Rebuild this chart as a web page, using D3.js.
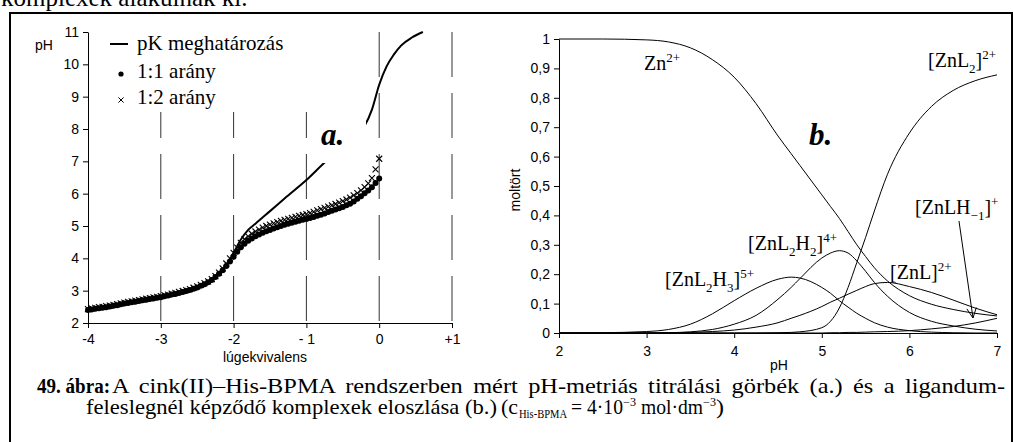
<!DOCTYPE html>
<html><head><meta charset="utf-8">
<script src="https://cdn.jsdelivr.net/npm/d3@7"></script>
<style>body{margin:0;background:#fff;} svg{display:block;}</style>
</head><body>
<svg id="c" width="1013" height="442"></svg>
<script>
// ---------- Chart a. (titration curves) ----------
const lugX = [-4.00,-3.95,-3.90,-3.85,-3.80,-3.75,-3.70,-3.65,-3.60,-3.55,
  -3.50,-3.45,-3.40,-3.35,-3.30,-3.25,-3.20,-3.15,-3.10,-3.05,
  -3.00,-2.95,-2.90,-2.85,-2.80,-2.75,-2.70,-2.65,-2.60,-2.55,
  -2.50,-2.45,-2.40,-2.35,-2.30,-2.25,-2.20,-2.15,-2.10,-2.05,
  -2.00,-1.95,-1.90,-1.85,-1.80,-1.75,-1.70,-1.65,-1.60,-1.55,
  -1.50,-1.45,-1.40,-1.35,-1.30,-1.25,-1.20,-1.15,-1.10,-1.05,
  -1.00,-0.95,-0.90,-0.85,-0.80,-0.75,-0.70,-0.65,-0.60,-0.55,
  -0.50,-0.45,-0.40,-0.35,-0.30,-0.25,-0.20,-0.15,-0.10,-0.05,0.00];
const ph11 = [2.40,2.42,2.44,2.46,2.47,2.49,2.51,2.53,2.55,2.58,
  2.60,2.62,2.64,2.66,2.68,2.70,2.72,2.74,2.76,2.78,
  2.80,2.83,2.85,2.88,2.90,2.93,2.96,2.99,3.02,3.06,
  3.10,3.15,3.20,3.26,3.33,3.42,3.52,3.63,3.76,3.90,
  4.05,4.20,4.34,4.45,4.54,4.61,4.68,4.74,4.79,4.84,
  4.88,4.92,4.96,5.00,5.04,5.07,5.10,5.13,5.16,5.19,
  5.22,5.25,5.28,5.32,5.35,5.39,5.43,5.47,5.51,5.55,
  5.59,5.64,5.69,5.76,5.84,5.92,6.01,6.10,6.20,6.33,6.47];
const ph12 = [2.43,2.45,2.47,2.49,2.50,2.52,2.54,2.56,2.58,2.61,
  2.63,2.65,2.67,2.69,2.71,2.73,2.75,2.77,2.79,2.81,
  2.83,2.86,2.88,2.91,2.93,2.96,2.99,3.02,3.05,3.09,
  3.13,3.18,3.23,3.29,3.36,3.45,3.56,3.69,3.84,4.00,
  4.17,4.33,4.48,4.59,4.68,4.76,4.83,4.89,4.95,5.00,
  5.04,5.08,5.12,5.16,5.19,5.22,5.25,5.28,5.31,5.34,
  5.37,5.40,5.44,5.48,5.52,5.56,5.60,5.64,5.68,5.72,
  5.77,5.82,5.88,5.95,6.02,6.10,6.20,6.32,6.48,6.75,7.08];
const pkX  = [-4,-3.5,-3,-2.5,-2.3,-2.2,-2.1,-2.0,-1.9,-1.8,-1.7,-1.5,-1.3,-1.0,-0.73,-0.5,-0.3,-0.2,-0.1,0,0.1,0.2,0.3,0.45,0.6];
const pkPH = [2.40,2.60,2.80,3.10,3.32,3.50,3.78,4.17,4.58,4.88,5.07,5.46,5.85,6.42,7.0,7.42,7.82,8.10,8.60,9.37,9.93,10.30,10.58,10.83,11.0];
const aXTicks = [-4,-3,-2,-1,0,1];
const aXTickLabels = ["-4","-3","-2","- 1","0","+1"];
const aYTicks = [2,3,4,5,6,7,8,9,10,11];
const aGridX = [-3,-2,-1,0,1];
const legendLabels = ["pK meghatározás","1:1 arány","1:2 arány"];

// ---------- Chart b. (species distribution) ----------
const bPH = [2.0,2.5,3.0,3.25,3.5,3.75,4.0,4.25,4.5,4.65,4.75,5.0,5.1,5.2,5.3,5.4,5.5,5.6,5.75,6.0,6.25,6.5,6.75,7.0];
const fZn     = [1.0,1.0,0.997,0.99,0.97,0.93,0.87,0.78,0.67,0.61,0.57,0.47,0.43,0.39,0.345,0.30,0.26,0.222,0.177,0.127,0.098,0.08,0.067,0.058];
const fZnL2H3 = [0,0.001,0.005,0.012,0.03,0.065,0.11,0.152,0.183,0.19,0.187,0.155,0.135,0.11,0.088,0.067,0.05,0.035,0.02,0.008,0.003,0.001,0,0];
const fZnL2H2 = [0,0,0,0.001,0.004,0.012,0.03,0.06,0.115,0.155,0.185,0.255,0.272,0.28,0.272,0.245,0.21,0.172,0.125,0.07,0.04,0.024,0.013,0.007];
const fZnL    = [0,0,0,0.001,0.002,0.005,0.01,0.02,0.035,0.05,0.06,0.09,0.105,0.118,0.132,0.145,0.158,0.168,0.172,0.158,0.138,0.112,0.085,0.062];
const fZnL2   = [0,0,0,0,0,0,0,0,0.001,0.002,0.004,0.018,0.04,0.085,0.155,0.24,0.325,0.415,0.54,0.68,0.77,0.825,0.858,0.878];
const fZnLHm1 = [0,0,0,0,0,0,0,0,0,0,0,0,0.001,0.001,0.002,0.002,0.003,0.004,0.005,0.008,0.014,0.022,0.034,0.05];
const bXTicks = [2,3,4,5,6,7];
const bYTicks = [0,0.1,0.2,0.3,0.4,0.5,0.6,0.7,0.8,0.9,1];
const arrowFrom = [6.566, 0.381];
const arrowTo = [6.726, 0.051];

const svg = d3.select("#c");
const SERIF = "Liberation Serif, Times New Roman, serif";
const SANS = "Liberation Sans, Arial, sans-serif";

// partial text at top (cut off)
svg.append("text").attr("x",1).attr("y",6).attr("font-family",SERIF).attr("font-size",25)
  .text("komplexek alakulnak ki.");

// frame
svg.append("line").attr("x1",9).attr("x2",1013).attr("y1",13).attr("y2",13).attr("stroke","#000").attr("stroke-width",2);
svg.append("line").attr("x1",10).attr("x2",10).attr("y1",12).attr("y2",442).attr("stroke","#000").attr("stroke-width",2);
svg.append("line").attr("x1",1012).attr("x2",1012).attr("y1",12).attr("y2",442).attr("stroke","#000").attr("stroke-width",2);

// ===== Chart a =====
const xa = d3.scaleLinear().domain([-4,1]).range([88,452]);
const ya = d3.scaleLinear().domain([2,11]).range([323,32]);
const ga = svg.append("g");

ga.selectAll("line.grid").data(aGridX).enter().append("line")
  .attr("x1",d=>xa(d)).attr("x2",d=>xa(d)).attr("y1",ya(11)).attr("y2",ya(2))
  .attr("stroke","#333").attr("stroke-width",1).attr("stroke-dasharray","45,16");

ga.append("rect").attr("x",89).attr("y",31).attr("width",240).attr("height",81).attr("fill","#fff");

const axA_x = d3.axisBottom(xa).tickValues(aXTicks).tickSize(5).tickSizeOuter(0)
  .tickFormat((d,i)=>aXTickLabels[i]);
ga.append("g").attr("transform","translate(0,323)").call(axA_x)
  .call(g=>{g.attr("font-family",SANS).attr("font-size",14); g.select(".domain").attr("stroke","#000");
    g.selectAll("text").attr("fill","#000").attr("dy","0.9em");});
const axA_y = d3.axisLeft(ya).tickValues(aYTicks).tickSize(5).tickSizeOuter(0).tickFormat(d3.format("d"));
ga.append("g").attr("transform","translate(88,0)").call(axA_y)
  .call(g=>{g.attr("font-family",SANS).attr("font-size",14); g.select(".domain").attr("stroke","#000");
    g.selectAll("text").attr("fill","#000").attr("x",-9);});

const ptsA11 = lugX.map((x,i)=>[x,ph11[i]]);
const ptsA12 = lugX.map((x,i)=>[x,ph12[i]]);
ga.selectAll("circle.d11").data(ptsA11).enter().append("circle")
  .attr("cx",d=>xa(d[0])).attr("cy",d=>ya(d[1])).attr("r",3).attr("fill","#000");
const cross = s => `M${-s},${-s}L${s},${s}M${-s},${s}L${s},${-s}`;
ga.selectAll("path.d12").data(ptsA12).enter().append("path")
  .attr("transform",d=>`translate(${xa(d[0])},${ya(d[1])})`)
  .attr("d",cross(3)).attr("stroke","#000").attr("stroke-width",1.1).attr("fill","none");

const pkPts = pkX.map((x,i)=>[x,pkPH[i]]);
ga.append("path").datum(pkPts)
  .attr("d",d3.line().x(d=>xa(d[0])).y(d=>ya(d[1])).curve(d3.curveMonotoneX))
  .attr("fill","none").attr("stroke","#000").attr("stroke-width",2);

ga.append("rect").attr("x",316).attr("y",120).attr("width",50).attr("height",43).attr("fill","#fff");
ga.append("text").attr("x",321).attr("y",145).attr("font-family",SERIF).attr("font-weight","bold")
  .attr("font-style","italic").attr("font-size",31).text("a.");

ga.append("text").attr("x",35).attr("y",50).attr("font-family",SANS).attr("font-size",14).text("pH");
ga.append("text").attr("x",265).attr("y",362).attr("text-anchor","middle").attr("font-family",SANS).attr("font-size",14).text("lúgekvivalens");

ga.append("line").attr("x1",110).attr("x2",128).attr("y1",44).attr("y2",44).attr("stroke","#000").attr("stroke-width",2);
ga.append("circle").attr("cx",121).attr("cy",74).attr("r",2.6).attr("fill","#000");
ga.append("path").attr("transform","translate(121,100)").attr("d",cross(2.6)).attr("stroke","#000").attr("fill","none");
[50,78,104].forEach((y,i)=>{
  ga.append("text").attr("x",137).attr("y",y).attr("font-family",SERIF).attr("font-size",21).text(legendLabels[i]);
});

// ===== Chart b =====
const xb = d3.scaleLinear().domain([2,7]).range([559,997]);
const yb = d3.scaleLinear().domain([0,1]).range([333,39]);
const gb = svg.append("g");
const axB_x = d3.axisBottom(xb).tickValues(bXTicks).tickSize(5).tickSizeOuter(0).tickFormat(d3.format("d"));
gb.append("g").attr("transform","translate(0,333)").call(axB_x)
  .call(g=>{g.attr("font-family",SANS).attr("font-size",14); g.select(".domain").attr("stroke","#000");
    g.selectAll("text").attr("fill","#000").attr("dy","1.1em");});
const fmtB = d => d===0 ? "0" : d===1 ? "1" : d3.format(".1f")(d).replace(".",",");
const axB_y = d3.axisLeft(yb).tickValues(bYTicks).tickSize(5).tickSizeOuter(0).tickFormat(fmtB);
gb.append("g").attr("transform","translate(559,0)").call(axB_y)
  .call(g=>{g.attr("font-family",SANS).attr("font-size",14); g.select(".domain").attr("stroke","#000");
    g.selectAll("text").attr("fill","#000").attr("x",-9);});

const lineB = d3.line().x(d=>xb(d[0])).y(d=>yb(d[1])).curve(d3.curveMonotoneX);
[fZn,fZnL2H3,fZnL2H2,fZnL,fZnL2,fZnLHm1].forEach(arr=>{
  gb.append("path").datum(bPH.map((p,i)=>[p,arr[i]])).attr("d",lineB)
    .attr("fill","none").attr("stroke","#000").attr("stroke-width",1);
});

gb.append("text").attr("x",779).attr("y",370).attr("text-anchor","middle").attr("font-family",SANS).attr("font-size",14).text("pH");
gb.append("text").attr("transform","translate(520,190) rotate(-90)").attr("text-anchor","middle")
  .attr("font-family",SANS).attr("font-size",14).text("moltört");

function rich(g,x,y,parts,fs){
  const t = g.append("text").attr("x",x).attr("y",y).attr("font-family",SERIF).attr("font-size",fs);
  let cur = 0;
  parts.forEach(([s,k])=>{
    let target = k==="sub" ? fs*0.3 : k==="sup" ? -fs*0.42 : 0;
    t.append("tspan").attr("dy",target-cur).attr("font-size",k?fs*0.65:fs).text(s);
    cur = target;
  });
  return t;
}
const FS = 20;
rich(gb,644,70,[["Zn"],["2+","sup"]],FS);
rich(gb,928,67,[["[ZnL"],["2","sub"],["]"],["2+","sup"]],FS);
rich(gb,915,214,[["[ZnLH"],["−1","sub"],["]"],["+","sup"]],FS);
rich(gb,748,250,[["[ZnL"],["2","sub"],["H"],["2","sub"],["]"],["4+","sup"]],FS);
rich(gb,890,279,[["[ZnL]"],["2+","sup"]],FS);
rich(gb,665,286,[["[ZnL"],["2","sub"],["H"],["3","sub"],["]"],["5+","sup"]],FS);
gb.append("text").attr("x",809).attr("y",145).attr("font-family",SERIF).attr("font-weight","bold")
  .attr("font-style","italic").attr("font-size",31).text("b.");

const ax1 = xb(arrowFrom[0]), ay1 = yb(arrowFrom[1]), ax2 = xb(arrowTo[0]), ay2 = yb(arrowTo[1]);
gb.append("line").attr("x1",ax1).attr("y1",ay1).attr("x2",ax2).attr("y2",ay2).attr("stroke","#000").attr("stroke-width",1);
const ang = Math.atan2(ay2-ay1, ax2-ax1);
[0.45,-0.45].forEach(da=>{
  gb.append("line").attr("x1",ax2).attr("y1",ay2)
    .attr("x2",ax2-11*Math.cos(ang+da)).attr("y2",ay2-11*Math.sin(ang+da))
    .attr("stroke","#000").attr("stroke-width",1);
});

// caption
const SX = 1.16;
const cap = svg.append("g").attr("font-family",SERIF).attr("font-size",21);
cap.append("text").attr("x",37).attr("y",393).attr("font-weight","bold").attr("font-size",20)
  .attr("textLength",73).attr("lengthAdjust","spacingAndGlyphs").text("49. ábra:");
const line1Text = "A cink(II)–His-BPMA rendszerben mért pH-metriás titrálási görbék (a.) és a ligandum-";
const l1 = cap.append("g").attr("transform",`translate(112,393) scale(${SX},1)`)
  .append("text").attr("x",0).attr("y",0).text(line1Text);
const natural = l1.node().getComputedTextLength();
const nSpaces = line1Text.split(" ").length - 1;
l1.attr("word-spacing", Math.max(0,(893/SX - natural)/nSpaces));
// line 2, pieces placed as in the reference
const y2 = 414;
const piece = (x,y,txt,fs,len) => {
  const t = cap.append("text").attr("x",x).attr("y",y).attr("font-size",fs).text(txt);
  if (len) t.attr("textLength",len).attr("lengthAdjust","spacingAndGlyphs");
  return t;
};
piece(86,y2,"feleslegnél képződő komplexek eloszlása (b.)",21,411);
piece(501,y2,"(c",21,17);
piece(519,y2+4,"His-BPMA",12,48);
piece(571,y2,"= 4·10",21,52);
piece(623,y2-8,"−3",12,13);
piece(641,y2,"mol·dm",21,62);
piece(703,y2-8,"−3",12,13);
piece(716,y2,")",21,8);
</script>
</body></html>
